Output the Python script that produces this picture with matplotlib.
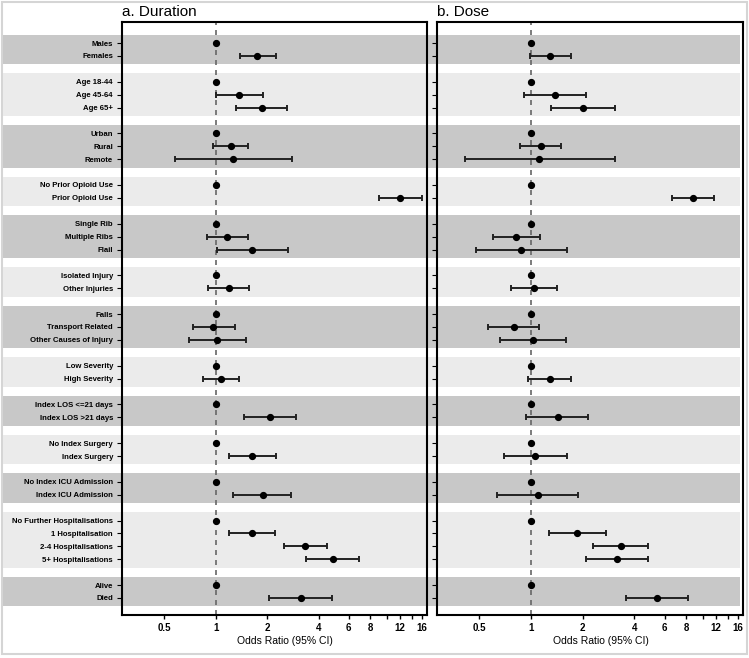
import numpy as np
import matplotlib
matplotlib.use("Agg")
import matplotlib.pyplot as plt
from matplotlib.patches import Rectangle
from matplotlib.transforms import blended_transform_factory

plt.rcParams['font.family'] = ['Liberation Sans', 'DejaVu Sans']

# groups of categories (a blank row between groups)
groups = [
    ["Males", "Females"],
    ["Age 18-44", "Age 45-64", "Age 65+"],
    ["Urban", "Rural", "Remote"],
    ["No Prior Opioid Use", "Prior Opioid Use"],
    ["Single Rib", "Multiple Ribs", "Flail"],
    ["Isolated Injury", "Other Injuries"],
    ["Falls", "Transport Related", "Other Causes of Injury"],
    ["Low Severity", "High Severity"],
    ["Index LOS <=21 days", "Index LOS >21 days"],
    ["No Index Surgery", "Index Surgery"],
    ["No Index ICU Admission", "Index ICU Admission"],
    ["No Further Hospitalisations", "1 Hospitalisation", "2-4 Hospitalisations", "5+ Hospitalisations"],
    ["Alive", "Died"],
]

# a. Duration: odds ratio, lower CI, upper CI
dur_or = [1, 1.75, 1, 1.37, 1.86, 1, 1.22, 1.27, 1, 11.95, 1, 1.165, 1.64, 1, 1.19,
          1, 0.964, 1.02, 1, 1.07, 1, 2.07, 1, 1.63, 1, 1.88, 1, 1.63, 3.34, 4.83, 1, 3.14]
dur_lo = [1, 1.38, 1, 1.01, 1.32, 1, 0.97, 0.575, 1, 8.96, 1, 0.886, 1.02, 1, 0.898,
          1, 0.733, 0.697, 1, 0.842, 1, 1.46, 1, 1.19, 1, 1.27, 1, 1.19, 2.51, 3.39, 1, 2.05]
dur_hi = [1, 2.24, 1, 1.88, 2.61, 1, 1.55, 2.80, 1, 16.0, 1, 1.55, 2.64, 1, 1.575,
          1, 1.29, 1.506, 1, 1.36, 1, 2.96, 1, 2.25, 1, 2.75, 1, 2.21, 4.46, 6.9, 1, 4.77]

# b. Dose
dose_or = [1, 1.29, 1, 1.38, 2.01, 1, 1.14, 1.12, 1, 8.74, 1, 0.818, 0.875, 1, 1.04,
           1, 0.792, 1.03, 1, 1.29, 1, 1.43, 1, 1.06, 1, 1.10, 1, 1.86, 3.33, 3.16, 1, 5.42]
dose_lo = [1, 0.987, 1, 0.91, 1.30, 1, 0.863, 0.41, 1, 6.60, 1, 0.601, 0.475, 1, 0.765,
           1, 0.56, 0.663, 1, 0.965, 1, 0.935, 1, 0.697, 1, 0.637, 1, 1.27, 2.31, 2.10, 1, 3.58]
dose_hi = [1, 1.71, 1, 2.10, 3.10, 1, 1.50, 3.10, 1, 11.6, 1, 1.13, 1.61, 1, 1.42,
           1, 1.12, 1.60, 1, 1.72, 1, 2.16, 1, 1.63, 1, 1.88, 1, 2.74, 4.79, 4.82, 1, 8.21]

xticks = [0.5, 1, 2, 4, 6, 8, 12, 16]
xminor = [10, 14]

# row positions
labels = []
rows = []
spans = []
r = 0
for g in groups:
    start = r
    for name in g:
        labels.append(name)
        rows.append(r)
        r += 1
    spans.append((start, r - 1))
    r += 1
rows = np.array(rows)

fig = plt.figure(figsize=(7.49, 6.58), dpi=100)
ax1 = fig.add_axes([122/749, 1 - 615/658, 305/749, 593/658])
ax2 = fig.add_axes([437/749, 1 - 615/658, 306/749, 593/658])

for ax, orr, lo, hi, title in [(ax1, dur_or, dur_lo, dur_hi, "a. Duration"),
                               (ax2, dose_or, dose_lo, dose_hi, "b. Dose")]:
    orr = np.array(orr); lo = np.array(lo); hi = np.array(hi)
    ax.set_facecolor('none')
    ax.set_xscale('log')
    ax.set_xlim(0.283, 17.2)
    ax.set_ylim(44.32, -1.63)
    ax.axvline(1, color='#666666', lw=1.2, ls=(0, (3, 3)), zorder=1)
    ref = lo == hi
    ax.errorbar(orr[~ref], rows[~ref], xerr=[orr[~ref] - lo[~ref], hi[~ref] - orr[~ref]],
                fmt='none', ecolor='#222222', elinewidth=1.4, capsize=2.5, capthick=1.4, zorder=2)
    ax.plot(orr, rows, 'o', color='black', ms=4.2, zorder=3)
    ax.set_xticks(xticks)
    ax.set_xticklabels([str(t) for t in xticks], fontsize=7, fontweight='bold')
    ax.set_xticks(xminor, minor=True)
    ax.xaxis.set_minor_formatter(matplotlib.ticker.NullFormatter())
    ax.tick_params(axis='x', which='both', length=3, width=1, pad=3)
    ax.set_yticks(rows)
    ax.tick_params(axis='y', length=3.5, width=0.8, pad=3)
    for s in ax.spines.values():
        s.set_linewidth(1.5)
    ax.set_xlabel("Odds Ratio (95% CI)", fontsize=7.5)
    ax.xaxis.set_label_coords(0.535, -0.035)
    ax.set_title(title, loc='left', fontsize=11, pad=4)

ax1.set_yticklabels(labels, fontsize=5.6, fontweight='bold')
ax2.set_yticklabels([])

# shaded group bands across the full figure width
tr = blended_transform_factory(fig.transFigure, ax1.transData)
for i, (a, b) in enumerate(spans):
    col = '#c8c8c8' if i % 2 == 0 else '#ebebeb'
    fig.add_artist(Rectangle((3/749, a - 0.65), (740 - 3)/749, (b - a) + 1.3,
                             transform=tr, facecolor=col, edgecolor='none', zorder=-1))

fig.add_artist(Rectangle((0.003, 0.006), 0.994, 0.991, transform=fig.transFigure,
                         facecolor='none', edgecolor='#d5d5d5', lw=1.5, zorder=-2))

fig.savefig("out.png", dpi=100)
